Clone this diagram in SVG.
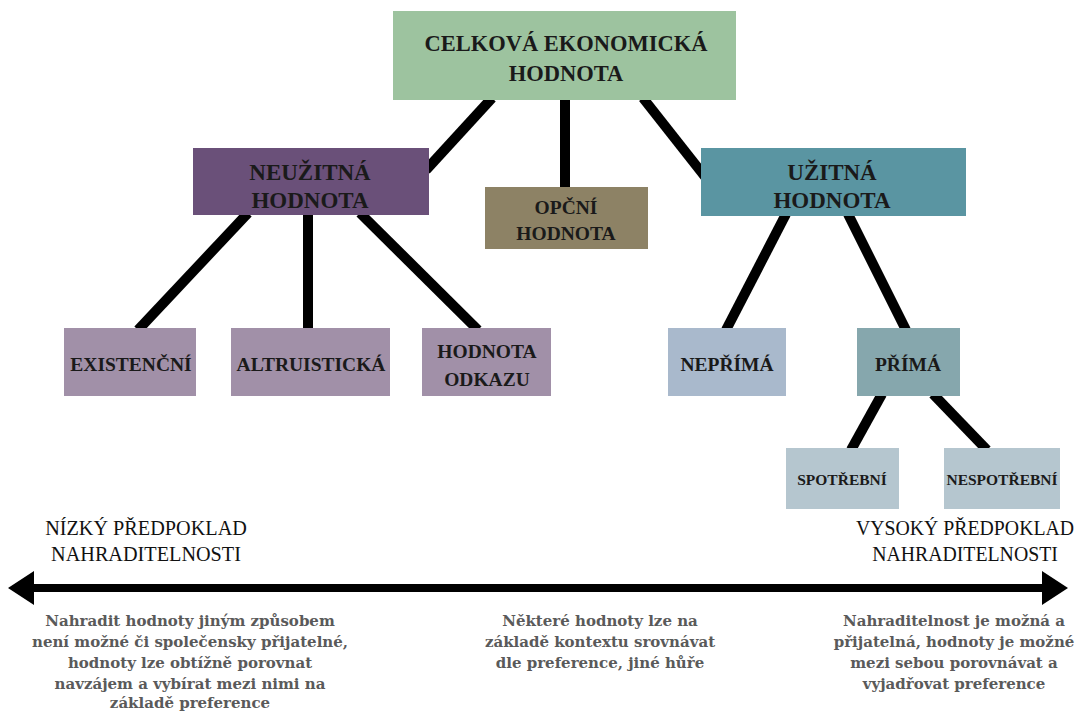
<svg xmlns="http://www.w3.org/2000/svg" width="1079" height="712" viewBox="0 0 1079 712">
<style>
.n{font-family:"Liberation Serif",serif;font-weight:bold;fill:#1a1a1a;text-anchor:middle}
.h{font-family:"Liberation Serif",serif;fill:#111;text-anchor:middle;font-size:22px}
.d{font-family:"DejaVu Serif",serif;font-weight:bold;fill:#5a5a5a;text-anchor:middle;font-size:15px}
.c line{stroke:#000;stroke-width:10}
</style>
<rect width="1079" height="712" fill="#fff"/>
<g class="c" id="connectors">
<line x1="492" y1="98" x2="426" y2="170"/>
<line x1="565" y1="98" x2="565" y2="188"/>
<line x1="643" y1="98" x2="706" y2="178"/>
<line x1="248" y1="213" x2="138" y2="330"/>
<line x1="308" y1="213" x2="308" y2="330"/>
<line x1="360" y1="213" x2="478" y2="330"/>
<line x1="786" y1="214" x2="726" y2="330"/>
<line x1="848" y1="214" x2="906" y2="330"/>
<line x1="882" y1="394" x2="851" y2="450"/>
<line x1="933" y1="394" x2="987" y2="450"/>
</g>
<g id="n-total"><rect x="393" y="11" width="343" height="89" fill="#9dc39f"/>
<text class="n" font-size="22.5" x="566" y="51">CELKOVÁ EKONOMICKÁ</text><text class="n" font-size="22.5" x="566" y="81">HODNOTA</text></g>
<g id="n-neuzitna"><rect x="193" y="148" width="236" height="67" fill="#6a5079"/>
<text class="n" font-size="23" x="310" y="180">NEUŽITNÁ</text><text class="n" font-size="23" x="310" y="208">HODNOTA</text></g>
<g id="n-opcni"><rect x="485" y="187" width="163" height="62" fill="#8d8265"/>
<text class="n" font-size="19.5" x="566" y="214">OPČNÍ</text><text class="n" font-size="19.5" x="566" y="240">HODNOTA</text></g>
<g id="n-uzitna"><rect x="701" y="148" width="265" height="68" fill="#5a95a2"/>
<text class="n" font-size="23" x="832" y="180">UŽITNÁ</text><text class="n" font-size="23" x="832" y="208">HODNOTA</text></g>
<g id="n-existencni"><rect x="64" y="328" width="132" height="68" fill="#a190a8"/>
<text class="n" font-size="19.5" x="131" y="371">EXISTENČNÍ</text></g>
<g id="n-altruisticka"><rect x="231" y="328" width="159" height="68" fill="#a190a8"/>
<text class="n" font-size="19.5" x="311" y="371">ALTRUISTICKÁ</text></g>
<g id="n-odkazu"><rect x="422" y="328" width="129" height="68" fill="#a190a8"/>
<text class="n" font-size="19.5" x="487" y="358">HODNOTA</text><text class="n" font-size="19.5" x="487" y="386">ODKAZU</text></g>
<g id="n-neprima"><rect x="668" y="328" width="118" height="68" fill="#a9b9cc"/>
<text class="n" font-size="19.5" x="727" y="371">NEPŘÍMÁ</text></g>
<g id="n-prima"><rect x="857" y="328" width="103" height="68" fill="#86a7ad"/>
<text class="n" font-size="19.5" x="908" y="371">PŘÍMÁ</text></g>
<g id="n-spotrebni"><rect x="786" y="448" width="113" height="61" fill="#b5c6cf"/>
<text class="n" font-size="15.5" x="842" y="485">SPOTŘEBNÍ</text></g>
<g id="n-nespotrebni"><rect x="944" y="448" width="116" height="61" fill="#b5c6cf"/>
<text class="n" font-size="15.5" x="1002" y="485">NESPOTŘEBNÍ</text></g>
<g id="axis">
<line x1="30" y1="588" x2="1045" y2="588" stroke="#000" stroke-width="8"/>
<polygon points="8,588 34,571 34,605" fill="#000"/>
<polygon points="1068,588 1042,571 1042,605" fill="#000"/>
</g>
<text class="h" transform="translate(146,535) scale(0.92,1)">NÍZKÝ PŘEDPOKLAD</text>
<text class="h" transform="translate(146,561) scale(0.92,1)">NAHRADITELNOSTI</text>
<text class="h" transform="translate(965,535) scale(0.9,1)">VYSOKÝ PŘEDPOKLAD</text>
<text class="h" transform="translate(965,561) scale(0.9,1)">NAHRADITELNOSTI</text>
<g class="d">
<text x="190" y="626">Nahradit hodnoty jiným způsobem</text>
<text x="190" y="647">není možné či společensky přijatelné,</text>
<text x="190" y="668">hodnoty lze obtížně porovnat</text>
<text x="190" y="689">navzájem a vybírat mezi nimi na</text>
<text x="190" y="708">základě preference</text>
<text x="600" y="626">Některé hodnoty lze na</text>
<text x="600" y="647">základě kontextu srovnávat</text>
<text x="600" y="668">dle preference, jiné hůře</text>
</g>
<g class="d" font-size="14.5">
<text x="954" y="626">Nahraditelnost je možná a</text>
<text x="954" y="647">přijatelná, hodnoty je možné</text>
<text x="954" y="668">mezi sebou porovnávat a</text>
<text x="954" y="689">vyjadřovat preference</text>
</g>
</svg>
